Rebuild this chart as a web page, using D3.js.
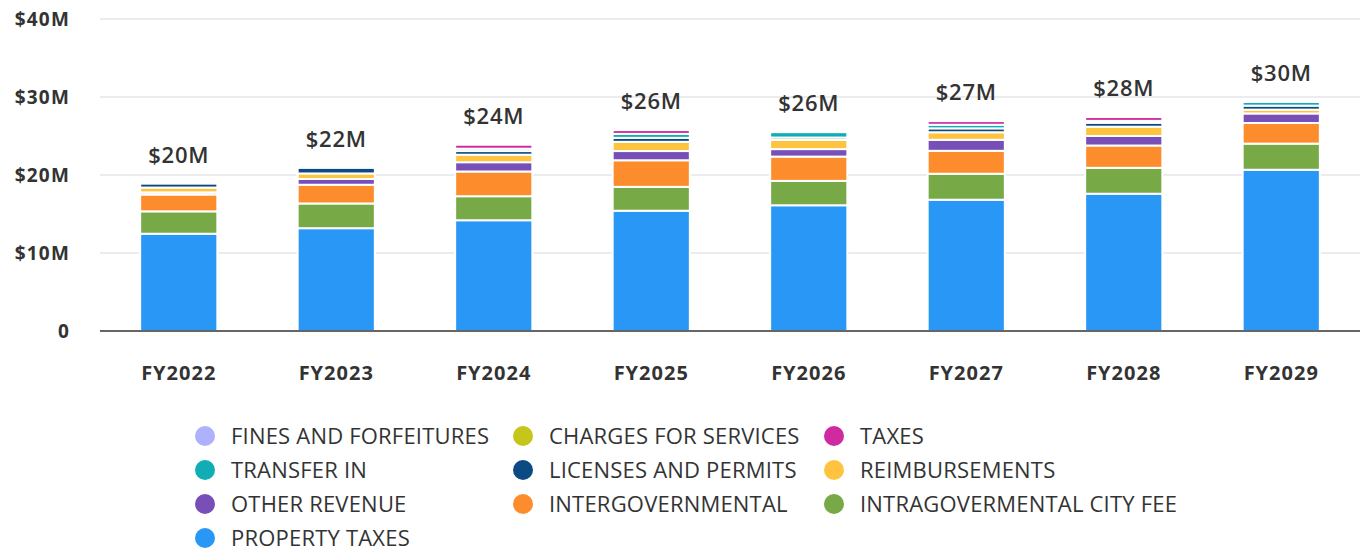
<!DOCTYPE html>
<html>
<head>
<meta charset="utf-8">
<script src="https://cdn.jsdelivr.net/npm/d3@7"></script>
<style>
  html, body { margin: 0; padding: 0; background: #fff; }
  svg { display: block; }
  text { font-family: "Open Sans", sans-serif; }
</style>
</head>
<body>
<svg id="chart" width="1360" height="553"></svg>
<script>
const categories = ["FY2022","FY2023","FY2024","FY2025","FY2026","FY2027","FY2028","FY2029"];
const totalLabels = ["$20M","$22M","$24M","$26M","$26M","$27M","$28M","$30M"];
const yTicks = [0, 10, 20, 30, 40];
const yTickLabels = ["0","$10M","$20M","$30M","$40M"];

// values in $M, stack order bottom -> top
const propertyTaxes     = [12.47, 13.18, 14.20, 15.42, 16.12, 16.83, 17.60, 20.67];
const intragovCityFee   = [ 2.87,  3.17,  3.08,  3.06,  3.12,  3.33,  3.32,  3.35];
const intergovernmental = [ 2.16,  2.40,  3.17,  3.41,  3.12,  2.94,  2.86,  2.65];
const otherRevenue      = [ 0.27,  0.74,  1.19,  1.18,  0.96,  1.41,  1.22,  1.22];
const reimbursements    = [ 0.62,  0.71,  0.96,  1.18,  1.18,  0.97,  1.19,  0.49];
const licensesPermits   = [ 0.50,  0.71,  0.47,  0.51,  0.30,  0.50,  0.51,  0.51];
const transferIn        = [ 0.00,  0.00,  0.30,  0.51,  0.69,  0.46,  0.24,  0.47];
const taxes             = [ 0.00,  0.00,  0.51,  0.49,  0.00,  0.47,  0.49,  0.00];
const chargesServices   = [ 0, 0, 0, 0, 0, 0, 0, 0];
const finesForfeitures  = [ 0, 0, 0, 0, 0, 0, 0, 0];

const seriesNames = ["PROPERTY TAXES","INTRAGOVERMENTAL CITY FEE","INTERGOVERNMENTAL","OTHER REVENUE",
  "REIMBURSEMENTS","LICENSES AND PERMITS","TRANSFER IN","TAXES","CHARGES FOR SERVICES","FINES AND FORFEITURES"];
const seriesValues = [propertyTaxes, intragovCityFee, intergovernmental, otherRevenue, reimbursements,
  licensesPermits, transferIn, taxes, chargesServices, finesForfeitures];
const seriesColors = ["#2997f6","#77a946","#fd8d2c","#774fb7","#ffc43f","#0b4a82","#10adb4","#cf2a9f","#c6c61a","#aeb1fb"];
const legendOrder = ["FINES AND FORFEITURES","CHARGES FOR SERVICES","TAXES","TRANSFER IN","LICENSES AND PERMITS",
  "REIMBURSEMENTS","OTHER REVENUE","INTERGOVERNMENTAL","INTRAGOVERMENTAL CITY FEE","PROPERTY TAXES"];

const svg = d3.select("#chart");
const x = d3.scaleBand().domain(categories).range([100, 1360]).paddingInner(0.51).paddingOuter(0.255);
const y = d3.scaleLinear().domain([0, 40]).range([331, 19]);
const color = d3.scaleOrdinal().domain(seriesNames).range(seriesColors);

// grid
svg.append("g").selectAll("line").data(yTicks.filter(d => d > 0)).join("line")
  .attr("x1", 100).attr("x2", 1360)
  .attr("y1", d => y(d)).attr("y2", d => y(d))
  .attr("stroke", "#e6e6e6").attr("stroke-width", 1.5);

// y labels
svg.append("g").selectAll("text").data(yTicks).join("text")
  .attr("x", 70).attr("y", d => y(d)).attr("dy", "0.35em")
  .attr("text-anchor", "end").attr("font-size", 19).attr("font-weight", 700)
  .attr("letter-spacing", 1.2)
  .attr("fill", "#333").text((d, i) => yTickLabels[i]);

// stack
const rows = categories.map((c, i) => {
  const r = { cat: c };
  seriesNames.forEach((s, j) => r[s] = seriesValues[j][i]);
  return r;
});
const stacked = d3.stack().keys(seriesNames)(rows);

svg.append("g").selectAll("g").data(stacked).join("g")
  .attr("fill", d => color(d.key))
  .selectAll("rect").data(d => d.filter(p => p[1] - p[0] > 0)).join("rect")
  .attr("x", d => x(d.data.cat))
  .attr("width", x.bandwidth())
  .attr("y", d => y(d[1]))
  .attr("height", d => y(d[0]) - y(d[1]))
  .attr("stroke", "#fff").attr("stroke-width", 2);

// baseline
svg.append("line").attr("x1", 100).attr("x2", 1360).attr("y1", y(0)).attr("y2", y(0))
  .attr("stroke", "#333").attr("stroke-width", 1.5);

// totals
svg.append("g").selectAll("text").data(rows).join("text")
  .attr("x", d => x(d.cat) + x.bandwidth() / 2)
  .attr("y", d => y(d3.sum(seriesNames, s => d[s])) - 21)
  .attr("text-anchor", "middle").attr("font-size", 22).attr("font-weight", 600)
  .attr("letter-spacing", 0.8)
  .attr("fill", "#333").text((d, i) => totalLabels[i]);

// x labels
svg.append("g").selectAll("text").data(categories).join("text")
  .attr("x", d => x(d) + x.bandwidth() / 2).attr("y", 380)
  .attr("text-anchor", "middle").attr("font-size", 20).attr("font-weight", 700)
  .attr("letter-spacing", 1)
  .attr("fill", "#333").text(d => d);

// legend
const colX = [205, 523, 834];
const rowY = [436, 470, 504, 538];
const lg = svg.append("g").selectAll("g").data(legendOrder).join("g")
  .attr("transform", (d, i) => `translate(${colX[i % 3]},${rowY[Math.floor(i / 3)]})`);
lg.append("circle").attr("r", 10).attr("fill", d => color(d));
lg.append("text").attr("x", 26).attr("dy", "0.35em").attr("font-size", 22)
  .attr("letter-spacing", 0.2)
  .attr("fill", "#333").text(d => d);
</script>
</body>
</html>
